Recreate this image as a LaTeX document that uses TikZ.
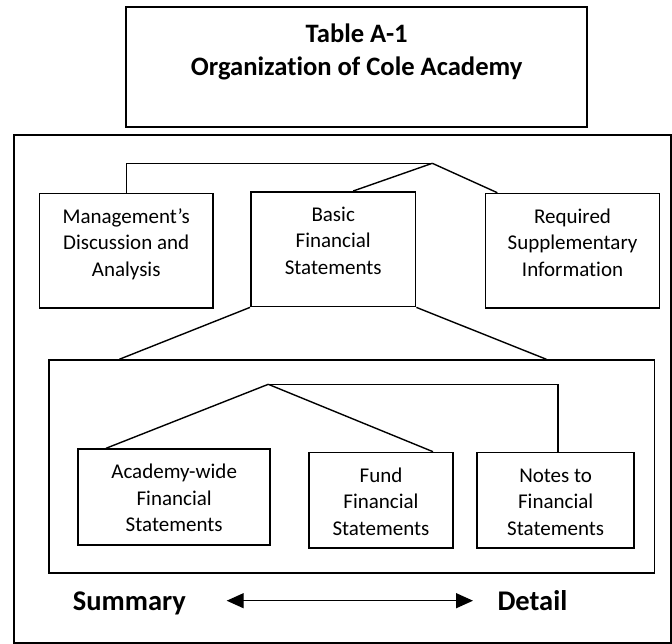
\documentclass[tikz,border=0pt]{standalone}
\usepackage{fontspec}
\setmainfont{Carlito}[Ligatures={TeX,NoCommon}]
\usetikzlibrary{arrows.meta}
\newcommand\boxtxt[3]{\parbox[c][#2][t]{#1}{\centering\fontsize{21}{26.5}\selectfont\vspace*{11pt}\strut #3}}
\begin{document}
\begin{tikzpicture}[x=1pt,y=-1pt,
  box/.style={draw, line width=1.7pt, inner sep=0pt, anchor=north west},
  link/.style={line width=1.4pt},
  dblarrow/.style={line width=1.4pt, {Triangle[length=17pt,width=15pt]}-{Triangle[length=17pt,width=15pt]}},
  biglabel/.style={inner sep=0pt, anchor=base west, font=\bfseries\fontsize{28.5}{33}\selectfont}]
\useasboundingbox (0,0) rectangle (672,644);
% title
\node[box] (title) at (125.3,6)
  {\parbox[c][120pt][t]{461pt}{\centering\bfseries\fontsize{26.6}{33}\selectfont\vspace*{12.9pt}\strut Table A-1\\Organization of Cole Academy}};
% outer frame
\node[box, minimum width=656.7pt, minimum height=508pt] (outer) at (13.3,134) {};
% top level boxes
\node[box] (mgmt) at (38.7,192.7) {\boxtxt{173.3pt}{114.6pt}{Management's\\Discussion and\\Analysis}};
\node[box] (basic) at (250,191) {\boxtxt{164.7pt}{114.7pt}{Basic\\Financial\\Statements}};
\node[box] (req) at (484.7,192.7) {\boxtxt{174pt}{114.6pt}{Required\\Supplementary\\Information}};
% inner frame
\node[box, minimum width=605.4pt, minimum height=213pt] (inner) at (48.3,359.3) {};
% lower boxes
\node[box] (aw) at (77.3,448.3) {\boxtxt{192pt}{96pt}{Academy-wide\\Financial\\Statements}};
\node[box] (fund) at (308,451.7) {\boxtxt{144.3pt}{95.6pt}{Fund\\Financial\\Statements}};
\node[box] (notes) at (476.3,451.7) {\boxtxt{157pt}{95.6pt}{Notes to\\Financial\\Statements}};
% top connectors
\coordinate (top) at (432.3,163.3);
\draw[link] (mgmt.north) |- (top);
\draw[link] (top) -- ([xshift=20pt]basic.north);
\draw[link] (top) -- ([xshift=12.6pt]req.north west);
% basic to inner frame
\draw[link] (basic.south west) -- ([xshift=71pt]inner.north west);
\draw[link] (basic.south east) -- ([xshift=-109pt]inner.north east);
% lower connectors
\coordinate (mid) at (268.3,384.3);
\draw[link] (mid) -- ([xshift=28.7pt]aw.north west);
\draw[link] (mid) -- ([xshift=-21pt]fund.north east);
\draw[link] (mid) -| ([xshift=2.5pt]notes.north);
% summary / detail
\node[biglabel] (summary) at (72.7,610) {Summary};
\node[biglabel] (detail) at (497.3,610) {Detail};
\coordinate (al) at (226.7,600.7);
\coordinate (ar) at (473,600.7);
\draw[dblarrow] (al) -- (ar);
\end{tikzpicture}
\end{document}
